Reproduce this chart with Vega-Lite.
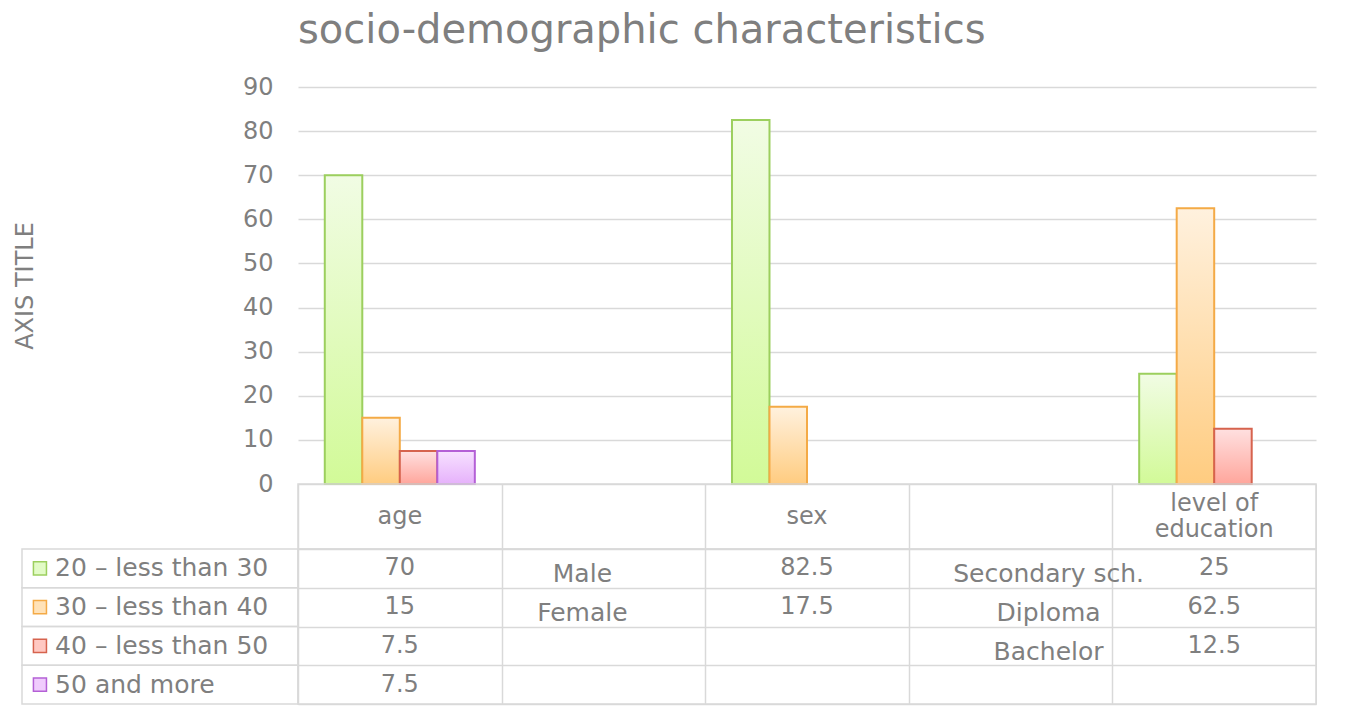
{
  "$schema": "https://vega.github.io/schema/vega-lite/v6.json",
  "background": "white",
  "padding": {"left": 13, "top": 11, "right": 0, "bottom": 0},
  "spacing": 0,
  "bounds": "flush",
  "config": {
    "view": {"stroke": null},
    "font": "DejaVu Sans",
    "axis": {"labelFont": "DejaVu Sans", "titleFont": "DejaVu Sans"},
    "title": {"font": "DejaVu Sans"}
  },
  "datasets": {
    "bars": [
      {"cat": "age", "series": "20 – less than 30", "value": 70},
      {"cat": "age", "series": "30 – less than 40", "value": 15},
      {"cat": "age", "series": "40 – less than 50", "value": 7.5},
      {"cat": "age", "series": "50 and more", "value": 7.5},
      {"cat": "sex", "series": "20 – less than 30", "value": 82.5},
      {"cat": "sex", "series": "30 – less than 40", "value": 17.5},
      {"cat": "level of education", "series": "20 – less than 30", "value": 25},
      {"cat": "level of education", "series": "30 – less than 40", "value": 62.5},
      {"cat": "level of education", "series": "40 – less than 50", "value": 12.5}
    ],
    "header": [
      {"cat": "age", "head": "age"},
      {"cat": "sex", "head": "sex"},
      {"cat": "level of education", "head": "level of\neducation"}
    ],
    "sublabels": [
      {"cat": "gap1", "series": "20 – less than 30", "text": "Male"},
      {"cat": "gap1", "series": "30 – less than 40", "text": "Female"},
      {"cat": "gap2", "series": "20 – less than 30", "text": "Secondary sch."},
      {"cat": "gap2", "series": "30 – less than 40", "text": "Diploma"},
      {"cat": "gap2", "series": "40 – less than 50", "text": "Bachelor"}
    ]
  },
  "vconcat": [
    {
      "width": 1018,
      "height": 397,
      "title": {"text": "socio-demographic characteristics", "anchor": "start", "frame": "group", "fontSize": 40, "fontWeight": "normal", "color": "#7f7f7f", "baseline": "alphabetic", "offset": -8},
      "data": {"name": "bars"},
      "encoding": {
        "x": {"field": "cat", "type": "nominal", "scale": {"type": "band", "domain": ["age", "gap1", "sex", "gap2", "level of education"], "paddingInner": 0, "paddingOuter": 0}, "axis": null},
        "xOffset": {"field": "series", "type": "nominal", "scale": {"type": "band", "domain": ["20 – less than 30", "30 – less than 40", "40 – less than 50", "50 and more"], "paddingInner": 0, "paddingOuter": 0.714}},
        "y": {"field": "value", "type": "quantitative", "scale": {"domain": [0, 90], "nice": false},
          "axis": {"values": [0, 10, 20, 30, 40, 50, 60, 70, 80, 90], "grid": true, "gridColor": "#d9d9d9", "gridWidth": 1.5, "domain": false, "ticks": false, "labelFontSize": 24, "labelColor": "#7f7f7f", "labelPadding": 25, "title": "AXIS TITLE", "titleFontSize": 24, "titleFontWeight": "normal", "titleColor": "#7f7f7f", "titlePadding": 205}}
      },
      "layer": [
        {"transform": [{"filter": "datum.series === '20 – less than 30'"}],
         "mark": {"type": "bar", "fill": {"gradient": "linear", "x1": 0, "y1": 0, "x2": 0, "y2": 1, "stops": [{"offset": 0, "color": "#f1fce4"}, {"offset": 1, "color": "#d2fa98"}]}, "stroke": "#9ccf5e", "strokeWidth": 2}},
        {"transform": [{"filter": "datum.series === '30 – less than 40'"}],
         "mark": {"type": "bar", "fill": {"gradient": "linear", "x1": 0, "y1": 0, "x2": 0, "y2": 1, "stops": [{"offset": 0, "color": "#fff1de"}, {"offset": 1, "color": "#ffcc80"}]}, "stroke": "#f4aa46", "strokeWidth": 2}},
        {"transform": [{"filter": "datum.series === '40 – less than 50'"}],
         "mark": {"type": "bar", "fill": {"gradient": "linear", "x1": 0, "y1": 0, "x2": 0, "y2": 1, "stops": [{"offset": 0, "color": "#ffe0e0"}, {"offset": 1, "color": "#ffa69c"}]}, "stroke": "#d6634e", "strokeWidth": 2}},
        {"transform": [{"filter": "datum.series === '50 and more'"}],
         "mark": {"type": "bar", "fill": {"gradient": "linear", "x1": 0, "y1": 0, "x2": 0, "y2": 1, "stops": [{"offset": 0, "color": "#f7e2ff"}, {"offset": 1, "color": "#e6b1fb"}]}, "stroke": "#b460d6", "strokeWidth": 2}}
      ]
    },
    {
      "width": 1018,
      "height": 65,
      "data": {"name": "header"},
      "view": {"stroke": "#d9d9d9", "strokeWidth": 1.5},
      "encoding": {
        "x": {"field": "cat", "type": "nominal", "scale": {"type": "band", "domain": ["age", "gap1", "sex", "gap2", "level of education"], "paddingInner": 0, "paddingOuter": 0},
          "axis": {"orient": "top", "grid": true, "tickBand": "extent", "labels": false, "ticks": false, "domain": false, "title": null, "gridColor": "#d9d9d9", "gridWidth": 1.5}},
        "text": {"field": "head"}
      },
      "layer": [
        {"transform": [{"filter": "datum.cat !== 'level of education'"}],
         "mark": {"type": "text", "fontSize": 24, "color": "#7f7f7f", "baseline": "middle"}},
        {"transform": [{"filter": "datum.cat === 'level of education'"}],
         "mark": {"type": "text", "fontSize": 24, "color": "#7f7f7f", "lineBreak": "\n", "lineHeight": 26, "baseline": "middle", "dy": -13}}
      ]
    },
    {
      "width": 1018,
      "height": 155,
      "view": {"stroke": "#d9d9d9", "strokeWidth": 1.5},
      "encoding": {
        "y": {"field": "series", "type": "nominal", "scale": {"type": "band", "domain": ["20 – less than 30", "30 – less than 40", "40 – less than 50", "50 and more"], "paddingInner": 0, "paddingOuter": 0},
          "axis": {"grid": true, "tickBand": "extent", "labels": false, "ticks": false, "domain": false, "title": null, "gridColor": "#d9d9d9", "gridWidth": 1.5}}
      },
      "layer": [
        {
          "encoding": {
            "x": {"field": "cat", "type": "nominal", "scale": {"type": "band", "domain": ["age", "gap1", "sex", "gap2", "level of education"], "paddingInner": 0, "paddingOuter": 0},
              "axis": {"orient": "top", "grid": true, "tickBand": "extent", "labels": false, "ticks": false, "domain": false, "title": null, "gridColor": "#d9d9d9", "gridWidth": 1.5}}
          },
          "layer": [
            {"data": {"name": "bars"},
             "mark": {"type": "text", "fontSize": 24, "color": "#7f7f7f", "baseline": "middle"},
             "encoding": {"text": {"field": "value", "type": "nominal"}}},
            {"data": {"name": "sublabels"},
             "transform": [{"filter": "datum.cat === 'gap1'"}],
             "mark": {"type": "text", "fontSize": 25, "color": "#7f7f7f", "baseline": "middle", "dx": -21, "dy": 6},
             "encoding": {"text": {"field": "text", "type": "nominal"}}},
            {"data": {"name": "sublabels"},
             "transform": [{"filter": "datum.cat === 'gap2'"}],
             "mark": {"type": "text", "fontSize": 25, "color": "#7f7f7f", "baseline": "middle", "dx": 38, "dy": 6},
             "encoding": {"text": {"field": "text", "type": "nominal"}}}
          ]
        },
        {
          "data": {"name": "bars"},
          "transform": [{"filter": "datum.cat === 'age'"}],
          "layer": [
            {"mark": {"type": "rect", "filled": false, "stroke": "#d9d9d9", "strokeWidth": 1.5},
             "encoding": {"x": {"datum": "legend", "type": "nominal", "scale": {"type": "band", "domain": ["legend"], "range": [-276, 0], "paddingInner": 0, "paddingOuter": 0}, "axis": null}}},
            {"mark": {"type": "point", "shape": "square", "size": 170, "filled": true, "strokeWidth": 1.5, "opacity": 1},
             "encoding": {
               "x": {"datum": "legend", "type": "nominal", "bandPosition": 0.065, "scale": {"type": "band", "domain": ["legend"], "range": [-276, 0], "paddingInner": 0, "paddingOuter": 0}, "axis": null},
               "fill": {"field": "series", "type": "nominal", "scale": {"domain": ["20 – less than 30", "30 – less than 40", "40 – less than 50", "50 and more"], "range": ["#e2fbc6", "#ffe2b8", "#ffc8c2", "#f0ccfd"]}, "legend": null},
               "stroke": {"field": "series", "type": "nominal", "scale": {"domain": ["20 – less than 30", "30 – less than 40", "40 – less than 50", "50 and more"], "range": ["#9ccf5e", "#f4aa46", "#d6634e", "#b460d6"]}, "legend": null}
             }},
            {"mark": {"type": "text", "align": "left", "baseline": "middle", "fontSize": 25, "color": "#7f7f7f"},
             "encoding": {
               "x": {"datum": "legend", "type": "nominal", "bandPosition": 0.12, "scale": {"type": "band", "domain": ["legend"], "range": [-276, 0], "paddingInner": 0, "paddingOuter": 0}, "axis": null},
               "text": {"field": "series", "type": "nominal"}
             }}
          ]
        }
      ],
      "resolve": {"scale": {"x": "independent"}}
    }
  ]
}
